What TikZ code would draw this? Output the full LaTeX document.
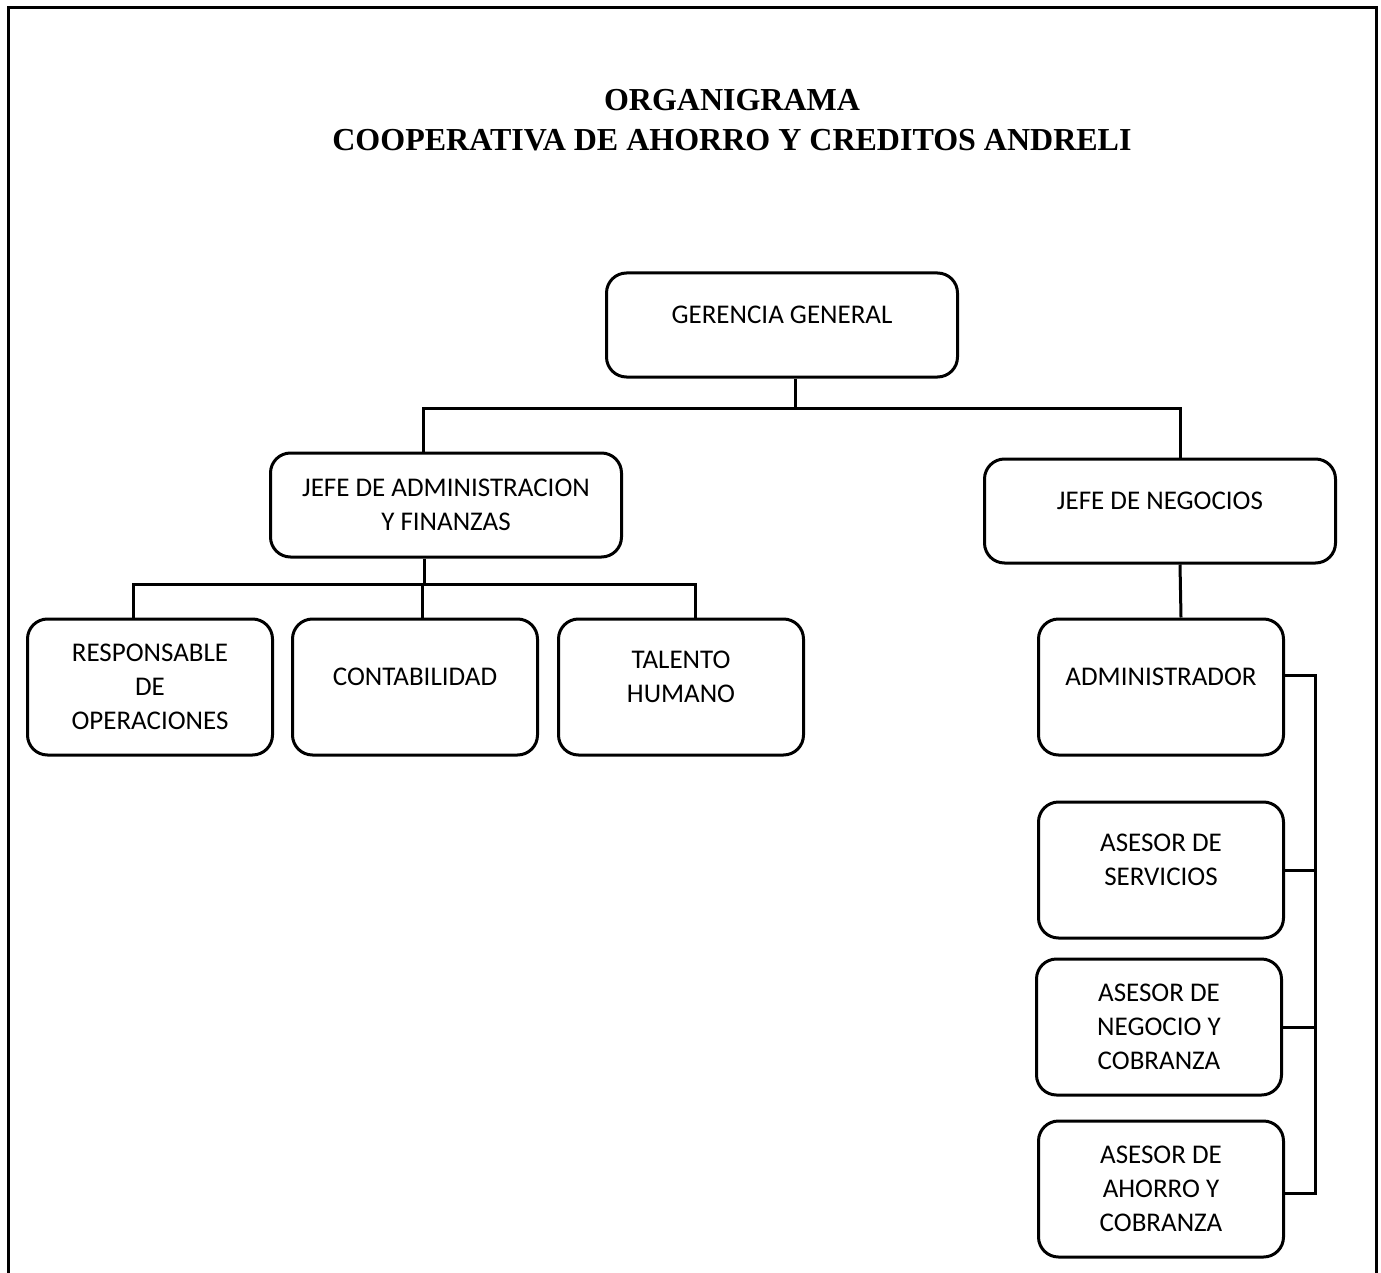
\documentclass[tikz,border=0pt]{standalone}
\usepackage{fontspec}
\setmainfont{Carlito}
\newfontfamily\titlefont{Liberation Serif}
\begin{document}
\begin{tikzpicture}[x=1pt,y=-1pt,
    cargo/.style={draw, line width=3pt, rounded corners=20pt, align=center,
      minimum width=245pt, minimum height=136pt, inner sep=0pt,
      font=\fontsize{27}{34}\selectfont},
    jefe/.style={cargo, minimum width=351pt, minimum height=104pt},
    subido/.style={text depth=20pt},
    enlace/.style={line width=3pt}]
  \useasboundingbox (0,0) rectangle (1381,1273);
  % marco
  \draw[line width=3pt] (8,1273) -- (8,8) -- (1376,8) -- (1376,1273);
  % titulo
  \node (titulo) at (732,100) {\titlefont\bfseries\fontsize{32}{34}\selectfont ORGANIGRAMA};
  \node (subtitulo) at (732,140) {\titlefont\bfseries\fontsize{32}{34}\selectfont COOPERATIVA DE AHORRO Y CREDITOS ANDRELI};
  % cargos
  \node[jefe, subido] (gerencia) at (782,325) {GERENCIA GENERAL};
  \node[jefe] (jadmin) at (446,505) {JEFE DE ADMINISTRACION\\Y FINANZAS};
  \node[jefe, subido] (jneg) at (1160,511) {JEFE DE NEGOCIOS};
  \node[cargo] (resp) at (150,687) {RESPONSABLE\\DE\\OPERACIONES};
  \node[cargo, subido] (conta) at (415,687) {CONTABILIDAD};
  \node[cargo, subido] (talento) at (681,687) {TALENTO\\HUMANO};
  \node[cargo, subido] (admin) at (1161,687) {ADMINISTRADOR};
  \node[cargo, subido] (aserv) at (1161,870) {ASESOR DE\\SERVICIOS};
  \node[cargo] (aneg) at (1159,1027) {ASESOR DE\\NEGOCIO Y\\COBRANZA};
  \node[cargo] (aaho) at (1161,1189) {ASESOR DE\\AHORRO Y\\COBRANZA};
  % enlaces
  \coordinate (ja) at ([xshift=-23pt]jadmin.north);
  \coordinate (jn) at ([xshift=20pt]jneg.north);
  \draw[enlace] ([xshift=13pt]gerencia.south) -- ++(0,30) coordinate (gbus);
  \draw[enlace] (ja) |- (gbus) -| (jn);
  \coordinate (cn) at ([xshift=7pt]conta.north);
  \draw[enlace] ([xshift=-22pt]jadmin.south) -- ++(0,26) coordinate (abus);
  \draw[enlace] ([xshift=-17pt]resp.north) |- (abus) -| ([xshift=14pt]talento.north);
  \draw[enlace] (cn) -- (cn |- abus);
  \draw[enlace] ([xshift=20pt]jneg.south) -- ([xshift=20pt]admin.north);
  \draw[enlace] ([yshift=12pt]admin.east) -- ++(30,0) coordinate (rbus)
    |- ([yshift=-4pt]aaho.east);
  \draw[enlace] (aserv.east) -- (aserv.east -| rbus);
  \draw[enlace] (aneg.east) -- (aneg.east -| rbus);
\end{tikzpicture}
\end{document}
